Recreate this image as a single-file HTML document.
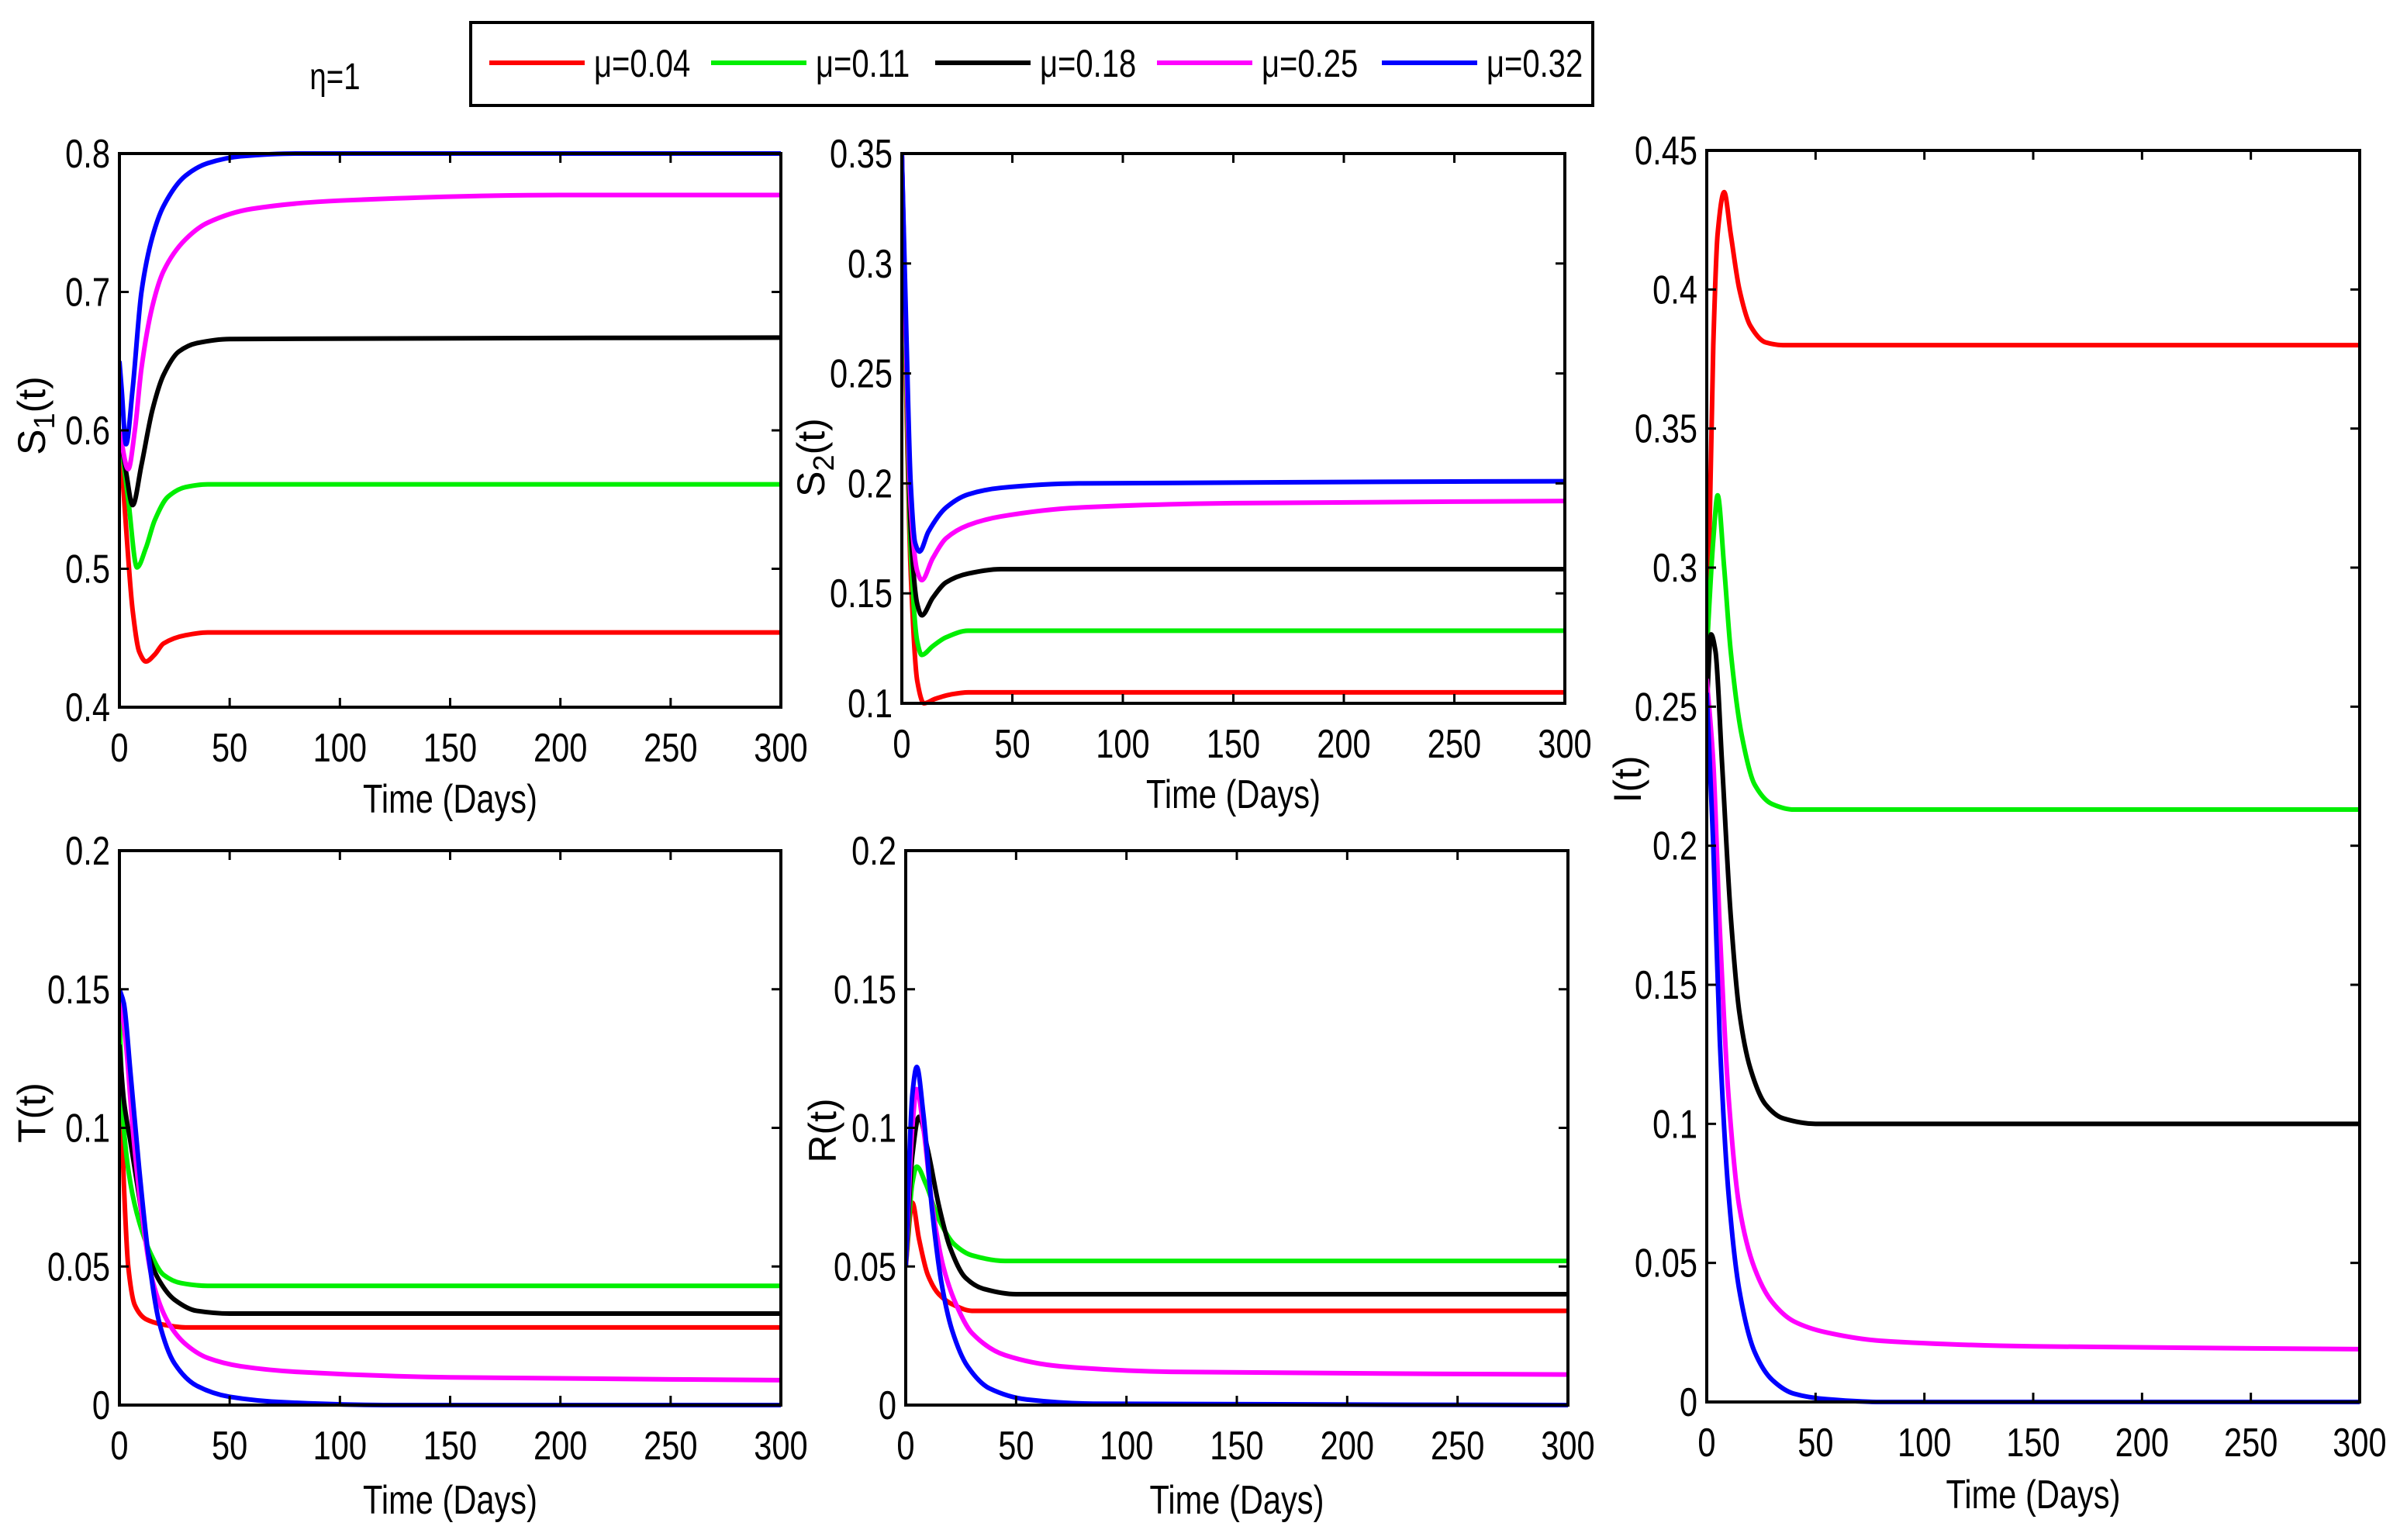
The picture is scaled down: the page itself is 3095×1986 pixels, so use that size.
<!DOCTYPE html>
<html><head><meta charset="utf-8"><style>
html,body{margin:0;padding:0;background:#fff;}
svg{display:block;}
text{font-family:"Liberation Sans",sans-serif;fill:#000;}
</style></head><body>
<svg id="fig" width="3095" height="1986" viewBox="0 0 3095 1986" xmlns="http://www.w3.org/2000/svg">
<rect width="3095" height="1986" fill="#fff"/>
<g id="legend"></g>
<g id="panels"></g>
</svg>
<script>
const NS='http://www.w3.org/2000/svg';
const svg=document.getElementById('fig');
const seriesLabels=['μ=0.04','μ=0.11','μ=0.18','μ=0.25','μ=0.32'];
const seriesColors=['#ff0000','#00ee00','#000000','#ff00ff','#0000ff'];
const xTicks=[0,50,100,150,200,250,300];

// S1 panel data: [t,value] pairs per series
const s1Red=[[0,0.6],[3,0.53],[6,0.47],[9,0.44],[12,0.433],[16,0.438],[20,0.446],[30,0.452],[40,0.454],[300,0.454]];
const s1Green=[[0,0.6],[4,0.55],[8,0.501],[12,0.515],[16,0.535],[22,0.552],[30,0.559],[40,0.561],[300,0.561]];
const s1Black=[[0,0.6],[3,0.57],[6,0.546],[10,0.575],[15,0.615],[20,0.64],[27,0.657],[35,0.663],[50,0.666],[300,0.667]];
const s1Magenta=[[0,0.6],[4,0.572],[7,0.6],[10,0.645],[15,0.69],[20,0.715],[30,0.738],[40,0.75],[60,0.76],[100,0.766],[200,0.77],[300,0.77]];
const s1Blue=[[0,0.65],[1,0.63],[3,0.59],[6,0.63],[10,0.7],[15,0.74],[20,0.762],[30,0.784],[40,0.793],[55,0.798],[80,0.8],[300,0.8]];
// S2
const s2Red=[[0,0.35],[2,0.24],[4,0.16],[7,0.11],[10,0.1],[15,0.102],[22,0.104],[30,0.105],[300,0.105]];
const s2Green=[[0,0.35],[2,0.25],[4,0.17],[7,0.128],[9,0.122],[14,0.126],[20,0.13],[30,0.133],[300,0.133]];
const s2Black=[[0,0.35],[2,0.26],[4,0.18],[7,0.145],[9,0.14],[14,0.148],[20,0.155],[30,0.159],[45,0.161],[300,0.161]];
const s2Magenta=[[0,0.35],[2,0.26],[4,0.19],[7,0.16],[9,0.156],[14,0.166],[20,0.175],[30,0.181],[45,0.185],[80,0.189],[150,0.191],[300,0.192]];
const s2Blue=[[0,0.35],[2,0.27],[4,0.2],[6,0.173],[8,0.169],[12,0.178],[20,0.189],[30,0.195],[45,0.198],[80,0.2],[300,0.201]];
// T
const tRed=[[0,0.13],[2,0.08],[4,0.05],[7,0.036],[12,0.031],[20,0.029],[30,0.028],[300,0.028]];
const tGreen=[[0,0.14],[2,0.1],[5,0.08],[9,0.066],[14,0.055],[20,0.047],[28,0.044],[40,0.043],[300,0.043]];
const tBlack=[[0,0.13],[2,0.11],[5,0.095],[9,0.075],[13,0.055],[18,0.045],[25,0.038],[35,0.034],[50,0.033],[300,0.033]];
const tMagenta=[[0,0.15],[3,0.13],[6,0.1],[10,0.07],[15,0.045],[22,0.03],[30,0.022],[40,0.017],[55,0.014],[80,0.012],[150,0.01],[300,0.009]];
const tBlue=[[0,0.15],[2,0.145],[5,0.12],[9,0.085],[13,0.055],[18,0.03],[25,0.015],[35,0.007],[50,0.003],[75,0.001],[120,0],[300,0]];
// R
const rRed=[[0,0.05],[3,0.073],[6,0.06],[10,0.047],[15,0.04],[22,0.036],[30,0.034],[300,0.034]];
const rGreen=[[0,0.05],[3,0.08],[5,0.086],[9,0.08],[15,0.067],[22,0.058],[30,0.054],[45,0.052],[300,0.052]];
const rBlack=[[0,0.05],[3,0.09],[6,0.104],[10,0.092],[15,0.072],[20,0.057],[27,0.046],[35,0.042],[50,0.04],[300,0.04]];
const rMagenta=[[0,0.05],[3,0.1],[5,0.114],[8,0.1],[12,0.072],[17,0.05],[23,0.036],[30,0.026],[45,0.018],[70,0.014],[120,0.012],[300,0.011]];
const rBlue=[[0,0.05],[3,0.112],[5,0.122],[8,0.105],[12,0.07],[16,0.045],[21,0.027],[28,0.014],[38,0.006],[55,0.002],[85,0.0005],[300,0]];
// I
const iRed=[[0,0.26],[3,0.38],[5,0.42],[8,0.435],[11,0.42],[15,0.4],[20,0.387],[27,0.381],[35,0.38],[300,0.38]];
const iGreen=[[0,0.27],[3,0.31],[5,0.326],[8,0.3],[11,0.27],[16,0.24],[22,0.222],[30,0.215],[40,0.213],[300,0.213]];
const iBlack=[[0,0.25],[2,0.276],[4,0.27],[7,0.23],[11,0.175],[15,0.14],[20,0.12],[27,0.107],[35,0.102],[50,0.1],[300,0.1]];
const iMagenta=[[0,0.26],[3,0.23],[6,0.17],[10,0.11],[15,0.07],[22,0.048],[30,0.036],[40,0.029],[55,0.025],[80,0.022],[150,0.02],[300,0.019]];
const iBlue=[[0,0.255],[3,0.2],[6,0.13],[10,0.075],[15,0.04],[22,0.018],[30,0.008],[40,0.003],[55,0.001],[80,0],[300,0]];

const panels=[
 {name:'s1',x0:154,x1:1007,y0:198,y1:912,ymin:0.4,ymax:0.8,yTicks:[0.4,0.5,0.6,0.7,0.8],yLabel:'S',sub:'1',ylx:58,yly:536,xl:1048,series:[s1Red,s1Green,s1Black,s1Magenta,s1Blue]},
 {name:'s2',x0:1163,x1:2018,y0:198,y1:907,ymin:0.1,ymax:0.35,yTicks:[0.1,0.15,0.2,0.25,0.3,0.35],yLabel:'S',sub:'2',ylx:1063,yly:590,xl:1042,series:[s2Red,s2Green,s2Black,s2Magenta,s2Blue]},
 {name:'t',x0:154,x1:1007,y0:1097,y1:1812,ymin:0,ymax:0.2,yTicks:[0,0.05,0.1,0.15,0.2],yLabel:'T(t)',ylx:58,yly:1435,xl:1952,series:[tRed,tGreen,tBlack,tMagenta,tBlue]},
 {name:'r',x0:1168,x1:2022,y0:1097,y1:1812,ymin:0,ymax:0.2,yTicks:[0,0.05,0.1,0.15,0.2],yLabel:'R(t)',ylx:1078,yly:1458,xl:1952,series:[rRed,rGreen,rBlack,rMagenta,rBlue]},
 {name:'i',x0:2201,x1:3043,y0:194,y1:1808,ymin:0,ymax:0.45,yTicks:[0,0.05,0.1,0.15,0.2,0.25,0.3,0.35,0.4,0.45],yLabel:'I(t)',ylx:2116,yly:1005,xl:1945,series:[iRed,iGreen,iBlack,iMagenta,iBlue]}
];

function el(tag,attrs,parent){const e=document.createElementNS(NS,tag);for(const k in attrs)e.setAttribute(k,attrs[k]);parent.appendChild(e);return e;}
function txt(parent,x,y,s,anchor,size,name){
 const g=el('g',{transform:`translate(${x},${y}) scale(0.8,1)`},parent);
 const t=el('text',{x:0,y:0,'text-anchor':anchor,'font-size':size},g);
 
 
 t.textContent=s;return t;
}
function fmt(v){return String(+v.toFixed(2));}
// monotone cubic (Fritsch-Carlson) path through points with increasing x
function pathD(pts){
 const n=pts.length;
 const dx=[],m=[],t=new Array(n);
 for(let i=0;i<n-1;i++){dx.push(pts[i+1][0]-pts[i][0]);m.push((pts[i+1][1]-pts[i][1])/dx[i]);}
 t[0]=m[0];t[n-1]=m[n-2];
 for(let i=1;i<n-1;i++){
  if(m[i-1]*m[i]<=0)t[i]=0;
  else{const w1=2*dx[i]+dx[i-1],w2=dx[i]+2*dx[i-1];t[i]=(w1+w2)/(w1/m[i-1]+w2/m[i]);}
 }
 let d='M'+pts[0][0]+','+pts[0][1];
 for(let i=0;i<n-1;i++){
  const h=dx[i]/3;
  d+=` C${pts[i][0]+h},${pts[i][1]+t[i]*h} ${pts[i+1][0]-h},${pts[i+1][1]-t[i+1]*h} ${pts[i+1][0]},${pts[i+1][1]}`;
 }
 return d;
}

const pg=document.getElementById('panels');
panels.forEach(p=>{
 const g=el('g',{},pg);
 
 
 const sx=t=>p.x0+(t-0)/(300-0)*(p.x1-p.x0);
 const sy=v=>p.y1-(v-p.ymin)/(p.ymax-p.ymin)*(p.y1-p.y0);
 const clipId='clip-'+p.name;
 const cp=el('clipPath',{id:clipId},g);
 el('rect',{x:p.x0,y:p.y0-4,width:p.x1-p.x0,height:p.y1-p.y0+8},cp);
 const lines=el('g',{'clip-path':`url(#${clipId})`},g);
 p.series.forEach((s,i)=>{
  const path=el('path',{d:pathD(s.map(q=>[sx(q[0]),sy(q[1])])),fill:'none',stroke:seriesColors[i],'stroke-width':6,'stroke-linejoin':'round'},lines);
  
  
 });
 const ax=el('rect',{x:p.x0,y:p.y0,width:p.x1-p.x0,height:p.y1-p.y0,fill:'none',stroke:'#000','stroke-width':4},g);
 
 
 xTicks.forEach(t=>{
  const x=sx(t);
  el('line',{x1:x,y1:p.y1,x2:x,y2:p.y1-12,stroke:'#000','stroke-width':3},g);
  el('line',{x1:x,y1:p.y0,x2:x,y2:p.y0+12,stroke:'#000','stroke-width':3},g);
  txt(g,x,p.y1+70,String(t),'middle',52,p.name+'-x-tick-label');
 });
 p.yTicks.forEach(v=>{
  const y=sy(v);
  el('line',{x1:p.x0,y1:y,x2:p.x0+12,y2:y,stroke:'#000','stroke-width':3},g);
  el('line',{x1:p.x1,y1:y,x2:p.x1-12,y2:y,stroke:'#000','stroke-width':3},g);
  txt(g,p.x0-12,y+18,fmt(v),'end',52,p.name+'-y-tick-label');
 });
 txt(g,(p.x0+p.x1)/2,p.xl,'Time (Days)','middle',52,p.name+'-x-axis-title');
 const yg=el('g',{transform:`translate(${p.ylx},${p.yly}) rotate(-90)`},g);
 const yt=el('text',{x:0,y:0,'text-anchor':'middle','font-size':50},yg);
 
 
 if(p.sub){
  yt.appendChild(document.createTextNode(p.yLabel));
  const ts=el('tspan',{'font-size':38,dy:12},yt);ts.textContent=p.sub;
  const t2=el('tspan',{dy:-12},yt);t2.textContent='(t)';
 } else yt.textContent=p.yLabel;
});

// eta label
txt(svg,432,115,'η=1','middle',48,'eta-annotation');

// legend
const lg=document.getElementById('legend');
const lb=el('rect',{x:607,y:29,width:1447,height:107,fill:'#fff',stroke:'#000','stroke-width':4},lg);


const legendX=[631,917,1206,1492,1782];
seriesLabels.forEach((s,i)=>{
 const eg=el('g',{},lg);
 
 
 el('line',{x1:legendX[i],y1:81,x2:legendX[i]+123,y2:81,stroke:seriesColors[i],'stroke-width':6},eg);
 txt(eg,legendX[i]+135,99,s,'start',50,'legend-label');
});
</script>
</body></html>
